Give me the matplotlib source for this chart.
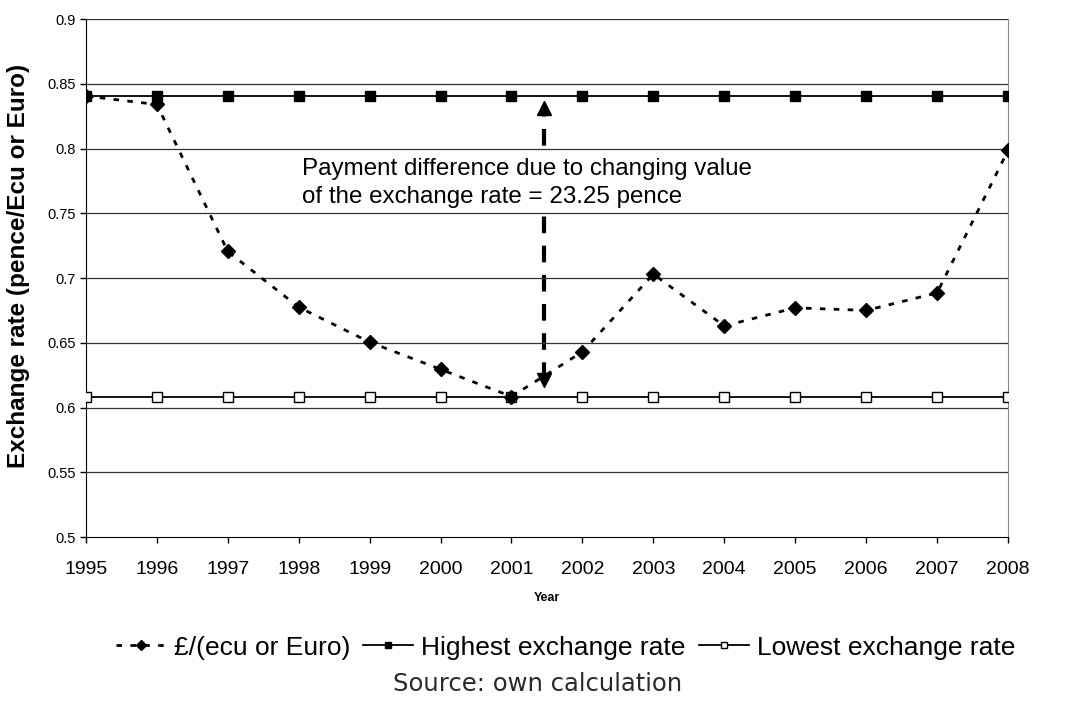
import numpy as np
import matplotlib.pyplot as plt

years = [1995, 1996, 1997, 1998, 1999, 2000, 2001, 2002, 2003, 2004, 2005, 2006, 2007, 2008]
rate = [0.8405, 0.8340, 0.7205, 0.6775, 0.6505, 0.6295, 0.6085, 0.6430, 0.7030, 0.6630, 0.6770, 0.6750, 0.6885, 0.7985]
highest = [0.8405] * len(years)
lowest = [0.6085] * len(years)

plt.rcParams['font.family'] = ['Liberation Sans', 'DejaVu Sans']

fig = plt.figure(figsize=(10.73, 7.02), dpi=100)
ax = fig.add_axes([0.0801, 0.235, 0.8593, 0.7379])

# gridlines drawn on top of the text box
for g in np.arange(0.55, 0.91, 0.05):
    ax.axhline(g, color='#333333', lw=0.9, zorder=4)

ax.plot(years, highest, color='black', lw=1.3, marker='s', ms=7, zorder=5,
        label='Highest exchange rate')
ax.plot(years, lowest, color='black', lw=1.3, marker='s', ms=6.5, mfc='white',
        mec='black', mew=1, zorder=5, label='Lowest exchange rate')
ax.plot(years, rate, color='black', lw=2, ls=(0, (2, 3)), marker='D', ms=7,
        zorder=6, label='£/(ecu or Euro)')

# payment difference arrow
ax.plot([2001.46, 2001.46], [0.622, 0.830], color='black', lw=3,
        ls=(0, (4, 3)), zorder=2)
ax.plot(2001.46, 0.831, marker='^', color='black', ms=10, zorder=2)
ax.plot(2001.46, 0.621, marker='v', color='black', ms=10, zorder=2)
ax.text(1998.05, 0.7735, 'Payment difference due to changing value\nof the exchange rate = 23.25 pence',
        fontsize=17.4, va='center', ha='left', linespacing=1.38, zorder=3,
        bbox=dict(facecolor='white', edgecolor='none', pad=3))

ax.set_xlim(1995, 2008)
ax.set_ylim(0.5, 0.9)
ax.set_xticks(years)
ax.set_xticklabels([str(y) for y in years], fontsize=14)
ax.set_yticks(np.arange(0.5, 0.91, 0.05))
ax.set_yticklabels(['0.5', '0.55', '0.6', '0.65', '0.7', '0.75', '0.8', '0.85', '0.9'], fontsize=10.5)
ax.tick_params(axis='both', direction='out', length=4, width=1, color='black')
ax.tick_params(axis='x', pad=13)

ax.spines['top'].set_visible(False)
ax.spines['right'].set_color('#888888')
ax.spines['left'].set_color('black')
ax.spines['bottom'].set_color('black')

ax.set_ylabel('Exchange rate (pence/Ecu or Euro)', fontsize=17.5, fontweight='bold')
ax.yaxis.set_label_coords(-0.0607, 0.523)
ax.set_xlabel('Year', fontsize=9, fontweight='bold', labelpad=10)

h, l = ax.get_legend_handles_labels()
order = [2, 0, 1]
fig.legend([h[i] for i in order], [l[i] for i in order], loc='center',
           bbox_to_anchor=(0.527, 0.0775), ncol=3, frameon=False, fontsize=19,
           handlelength=1.9, handletextpad=0.3, columnspacing=0.5, markerscale=0.7)

fig.text(0.501, 0.026, 'Source: own calculation', ha='center', va='center',
         fontsize=17.5, color='#2a2a2a', family=['DejaVu Sans'])

fig.savefig('out.png', dpi=100)
